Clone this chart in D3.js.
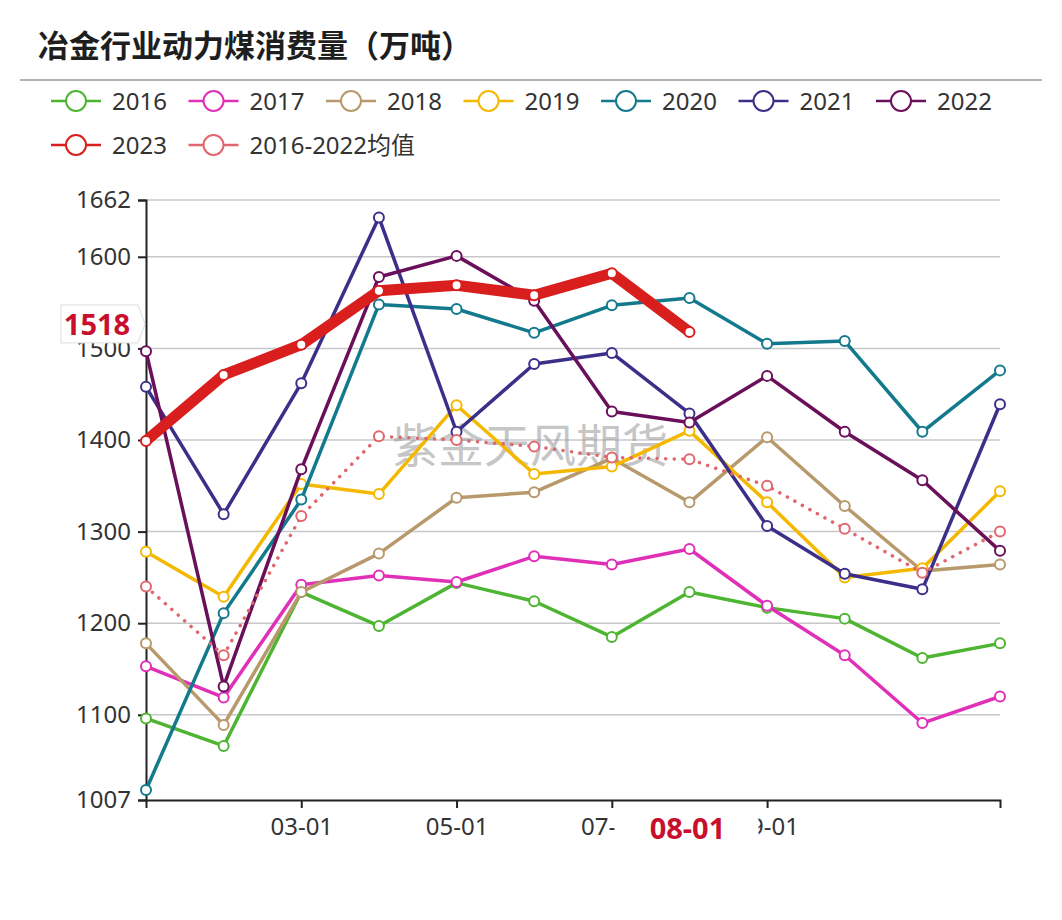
<!DOCTYPE html>
<html>
<head>
<meta charset="utf-8">
<script src="https://cdn.jsdelivr.net/npm/d3@7"></script>
<style>
  body { margin: 0; background: #fff; }
  svg { display: block; font-family: "Noto Sans", "Noto Sans CJK SC", sans-serif; }
</style>
</head>
<body>
<div id="chart"></div>
<script>
// months on the x axis
const months = ['01-01','02-01','03-01','04-01','05-01','06-01','07-01','08-01','09-01','10-01','11-01','12-01'];

// values (万吨)
const v2016 = [1096,1066,1234,1197,1244,1224,1185,1234,1217,1205,1162,1178];
const v2017 = [1153,1119,1242,1252,1245,1273,1264,1281,1219,1165,1091,1120];
const v2018 = [1178,1089,1234,1276,1337,1343,1380,1332,1403,1328,1257,1264];
const v2019 = [1278,1229,1352,1341,1438,1363,1371,1410,1332,1250,1260,1344];
const v2020 = [1018,1211,1335,1548,1543,1517,1547,1555,1505,1508,1409,1476];
const v2021 = [1458,1319,1462,1643,1409,1483,1495,1429,1306,1254,1237,1439];
const v2022 = [1497,1131,1368,1578,1601,1552,1431,1419,1470,1409,1356,1279];
const v2023 = [1399,1471,1504,1563,1569,1558,1582,1518];
const vAvg  = [1240,1165,1317,1404,1400,1393,1381,1379,1350,1303,1255,1300];

const yTicks = [1007,1100,1200,1300,1400,1500,1600,1662];
const xTickLabels = ['03-01','05-01','07-01','09-01'];

const series = [
  {name:'2016', data:v2016, color:'#4db531'},
  {name:'2017', data:v2017, color:'#e030b8'},
  {name:'2018', data:v2018, color:'#b8996c'},
  {name:'2019', data:v2019, color:'#f5b800'},
  {name:'2020', data:v2020, color:'#13798c'},
  {name:'2021', data:v2021, color:'#3b2f8a'},
  {name:'2022', data:v2022, color:'#6a0f5a'},
  {name:'2023', data:v2023, color:'#d91e1e', width:11},
  {name:'2016-2022均值', data:vAvg, color:'#e0676e', dotted:true}
];

const W = 1062, H = 920;
const svg = d3.select('#chart').append('svg')
  .attr('width', W).attr('height', H);

// title + rule
svg.append('text')
  .attr('x', 38).attr('y', 57)
  .attr('font-family', '"Noto Sans CJK SC", sans-serif')
  .attr('font-weight', 700)
  .attr('font-size', 31)
  .attr('fill', '#1e1e1e')
  .text('冶金行业动力煤消费量（万吨）');
svg.append('line')
  .attr('x1', 20).attr('x2', 1042).attr('y1', 80).attr('y2', 80)
  .attr('stroke', '#b4b4b8').attr('stroke-width', 2);

// legend
const legend = svg.append('g');
series.forEach((s, i) => {
  const col = i < 7 ? i : i - 7;
  const row = i < 7 ? 0 : 1;
  const g = legend.append('g')
    .attr('transform', 'translate(' + (51 + col * 137.5) + ',' + (101 + row * 44) + ')');
  g.append('line').attr('x1', 0).attr('x2', 50)
    .attr('stroke', s.color).attr('stroke-width', 2.5);
  g.append('circle').attr('cx', 25).attr('r', 10)
    .attr('fill', '#fff').attr('stroke', s.color).attr('stroke-width', 2);
  g.append('text').attr('x', 61).attr('y', 8.5)
    .attr('font-size', 24).attr('fill', '#333')
    .attr('font-family', '"Noto Sans", "Noto Sans CJK SC", sans-serif')
    .text(s.name);
});

// scales
const x = d3.scalePoint().domain(months).range([146, 1000]);
const y = d3.scaleLinear().domain([1007, 1662]).range([800, 200]);

// grid
svg.append('g').selectAll('line')
  .data(yTicks.filter(d => d > 1007))
  .enter().append('line')
    .attr('x1', 146).attr('x2', 1000)
    .attr('y1', d => y(d)).attr('y2', d => y(d))
    .attr('stroke', '#c8c8cc').attr('stroke-width', 1.5);

// y axis
const yAxis = svg.append('g')
  .attr('transform', 'translate(146,0)')
  .call(d3.axisLeft(y).tickValues(yTicks).tickFormat(d3.format('d')).tickSize(8).tickPadding(7));
yAxis.select('.domain').attr('stroke', '#222').attr('stroke-width', 2);
yAxis.selectAll('.tick line').attr('stroke', '#222').attr('stroke-width', 2);
yAxis.selectAll('text').attr('font-size', 24).attr('fill', '#333')
  .attr('font-family', '"Noto Sans", sans-serif');

// x axis
const xAxis = svg.append('g')
  .attr('transform', 'translate(0,800)')
  .call(d3.axisBottom(x).tickValues(xTickLabels).tickSizeOuter(0).tickSize(8).tickPadding(10));
xAxis.select('.domain').attr('stroke', '#222').attr('stroke-width', 2);
xAxis.selectAll('.tick line').attr('stroke', '#222').attr('stroke-width', 2);
xAxis.selectAll('text').attr('font-size', 24).attr('fill', '#333')
  .attr('font-family', '"Noto Sans", sans-serif');

// watermark
svg.append('text')
  .attr('x', 530).attr('y', 462)
  .attr('text-anchor', 'middle')
  .attr('font-family', '"Noto Sans CJK SC", sans-serif')
  .attr('font-size', 46)
  .attr('fill', '#999')
  .attr('opacity', 0.55)
  .text('紫金天风期货');

// lines
const line = d3.line()
  .x((d, i) => x(months[i]))
  .y(d => y(d));

series.forEach(s => {
  const g = svg.append('g');
  g.append('path')
    .datum(s.data)
    .attr('d', line)
    .attr('fill', 'none')
    .attr('stroke', s.color)
    .attr('stroke-width', s.width || 3.5)
    .attr('stroke-linejoin', 'round')
    .attr('stroke-linecap', 'round')
    .attr('stroke-dasharray', s.dotted ? '0.1,8.5' : null);
  g.selectAll('circle')
    .data(s.data)
    .enter().append('circle')
      .attr('cx', (d, i) => x(months[i]))
      .attr('cy', d => y(d))
      .attr('r', 5)
      .attr('fill', '#fff')
      .attr('stroke', s.color)
      .attr('stroke-width', 2);
});

// pointer labels (last 2023 value)
const lastVal = v2023[v2023.length - 1];
const lastMonth = months[v2023.length - 1];
const ly = y(lastVal) - 8;
svg.append('path')
  .attr('d', 'M61,' + (ly - 19) + ' H138 L145,' + ly + ' L138,' + (ly + 19) + ' H61 Z')
  .attr('fill', '#fff').attr('stroke', '#ddd').attr('stroke-width', 1);
svg.append('text')
  .attr('x', 97).attr('y', ly + 11)
  .attr('text-anchor', 'middle')
  .attr('font-size', 29).attr('font-weight', 700)
  .attr('fill', '#c8102e')
  .attr('font-family', '"Noto Sans", sans-serif')
  .text(lastVal);

svg.append('rect')
  .attr('x', x(lastMonth) - 75).attr('y', 808)
  .attr('width', 144).attr('height', 44)
  .attr('fill', '#fff');
svg.append('text')
  .attr('x', x(lastMonth) - 2).attr('y', 839)
  .attr('text-anchor', 'middle')
  .attr('font-size', 29).attr('font-weight', 700)
  .attr('fill', '#c8102e')
  .attr('font-family', '"Noto Sans", sans-serif')
  .text(lastMonth);
</script>
</body>
</html>
